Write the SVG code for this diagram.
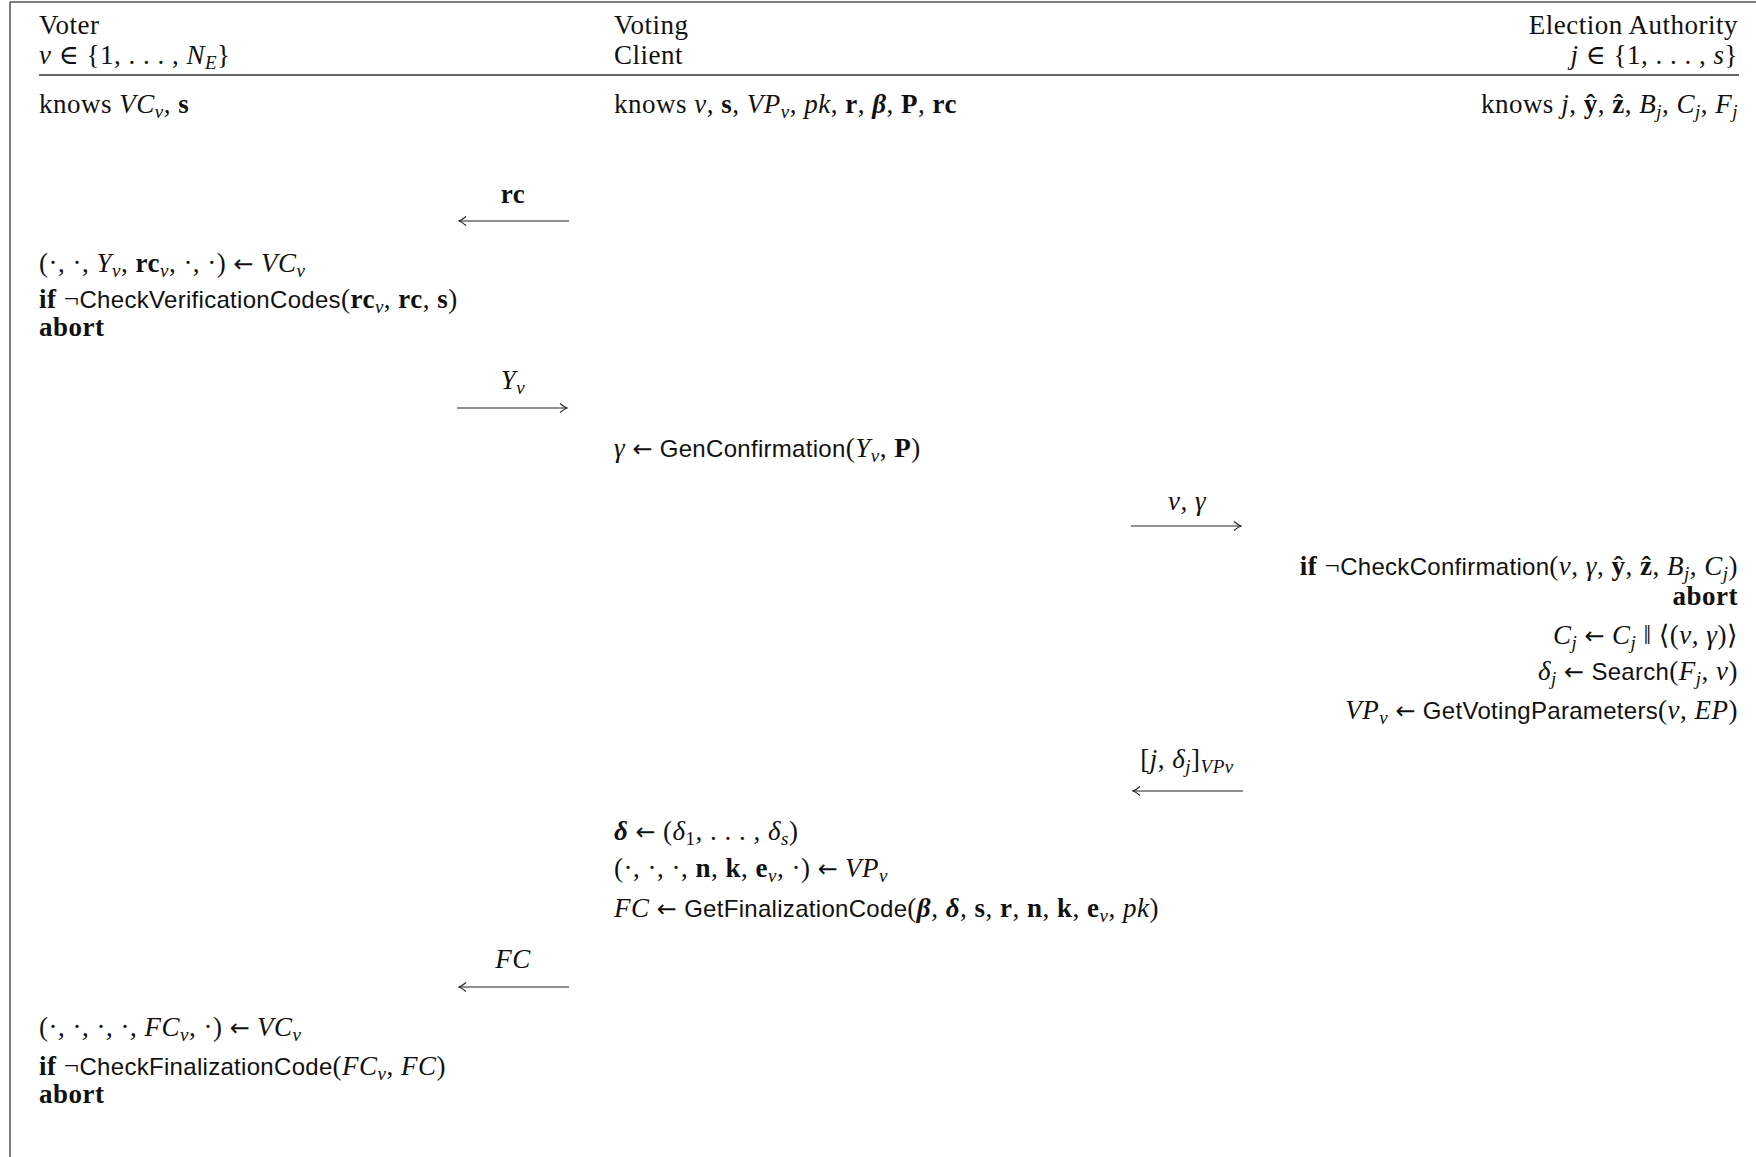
<svg xmlns="http://www.w3.org/2000/svg" width="1756" height="1157" viewBox="0 0 1756 1157">
<defs>
<style>
text{font-family:"Liberation Serif","DejaVu Serif",serif;font-size:27px;letter-spacing:0.5px;fill:#111}
.r{text-anchor:end}
.i{font-style:italic}
.b{font-weight:bold}
.bi{font-weight:bold;font-style:italic}
.sf{font-family:"Liberation Sans","DejaVu Sans",sans-serif;font-size:24px;letter-spacing:0.3px}
.ar{font-family:"DejaVu Sans",sans-serif;font-size:24px;letter-spacing:0}
.s{font-size:19px;baseline-shift:-25%}
.si{font-size:19px;baseline-shift:-25%;font-style:italic}
.frame{stroke:#555;stroke-width:1.5;fill:none}
.rule{stroke:#666;stroke-width:2.2;fill:none}
.msg{stroke:#222;stroke-width:1.2;fill:none}
</style>
<marker id="ah" viewBox="-10 -6 12 12" refX="0" refY="0" markerWidth="12" markerHeight="12" markerUnits="userSpaceOnUse" orient="auto-start-reverse">
<path d="M-7,-4.5 Q-3,-1 0,0 Q-3,1 -7,4.5" fill="none" stroke="#222" stroke-width="1.1"/>
</marker>
</defs>
<rect width="1756" height="1157" fill="#fff"/>
<g id="frame">
<line class="frame" x1="10" y1="2" x2="1756" y2="2"/>
<line class="frame" x1="10" y1="2" x2="10" y2="1157"/>
<line class="rule" x1="39" y1="75" x2="1739" y2="75"/>
</g>
<g id="voter">
<text x="39" y="34">Voter</text>
<text x="39" y="64"><tspan class="i">v</tspan> ∈ {1, . . . , <tspan class="i">N</tspan><tspan class="si">E</tspan>}</text>
<text x="39" y="113">knows  <tspan class="i">VC</tspan><tspan class="si">v</tspan>, <tspan class="b">s</tspan></text>
<text x="39" y="272">(·, ·, <tspan class="i">Y</tspan><tspan class="si">v</tspan>, <tspan class="b">rc</tspan><tspan class="si">v</tspan>, ·, ·) <tspan class="ar">←</tspan> <tspan class="i">VC</tspan><tspan class="si">v</tspan></text>
<text x="39" y="308"><tspan class="b">if</tspan> ¬<tspan class="sf">CheckVerificationCodes</tspan>(<tspan class="b">rc</tspan><tspan class="si">v</tspan>, <tspan class="b">rc</tspan>, <tspan class="b">s</tspan>)</text>
<text x="39" y="336" class="b">abort</text>
<text x="39" y="1036">(·, ·, ·, ·, <tspan class="i">FC</tspan><tspan class="si">v</tspan>, ·) <tspan class="ar">←</tspan> <tspan class="i">VC</tspan><tspan class="si">v</tspan></text>
<text x="39" y="1075"><tspan class="b">if</tspan> ¬<tspan class="sf">CheckFinalizationCode</tspan>(<tspan class="i">FC</tspan><tspan class="si">v</tspan>, <tspan class="i">FC</tspan>)</text>
<text x="39" y="1103" class="b">abort</text>
</g>
<g id="client">
<text x="614" y="34">Voting</text>
<text x="614" y="64">Client</text>
<text x="614" y="113">knows <tspan class="i">v</tspan>, <tspan class="b">s</tspan>, <tspan class="i">VP</tspan><tspan class="si">v</tspan>, <tspan class="i">pk</tspan>, <tspan class="b">r</tspan>, <tspan class="bi">β</tspan>, <tspan class="b">P</tspan>, <tspan class="b">rc</tspan></text>
<text x="614" y="457"><tspan class="i">γ</tspan> <tspan class="ar">←</tspan> <tspan class="sf">GenConfirmation</tspan>(<tspan class="i">Y</tspan><tspan class="si">v</tspan>, <tspan class="b">P</tspan>)</text>
<text x="614" y="840"><tspan class="bi">δ</tspan> <tspan class="ar">←</tspan> (<tspan class="i">δ</tspan><tspan class="s">1</tspan>, . . . , <tspan class="i">δ</tspan><tspan class="si">s</tspan>)</text>
<text x="614" y="877">(·, ·, ·, <tspan class="b">n</tspan>, <tspan class="b">k</tspan>, <tspan class="b">e</tspan><tspan class="si">v</tspan>, ·) <tspan class="ar">←</tspan> <tspan class="i">VP</tspan><tspan class="si">v</tspan></text>
<text x="614" y="917"><tspan class="i">FC</tspan> <tspan class="ar">←</tspan> <tspan class="sf">GetFinalizationCode</tspan>(<tspan class="bi">β</tspan>, <tspan class="bi">δ</tspan>, <tspan class="b">s</tspan>, <tspan class="b">r</tspan>, <tspan class="b">n</tspan>, <tspan class="b">k</tspan>, <tspan class="b">e</tspan><tspan class="si">v</tspan>, <tspan class="i">pk</tspan>)</text>
</g>
<g id="authority">
<text x="1738" y="34" class="r">Election Authority</text>
<text x="1738" y="64" class="r"><tspan class="i">j</tspan> ∈ {1, . . . , <tspan class="i">s</tspan>}</text>
<text x="1738" y="113" class="r">knows <tspan class="i">j</tspan>, <tspan class="b">ŷ</tspan>, <tspan class="b">ẑ</tspan>, <tspan class="i">B</tspan><tspan class="si">j</tspan>, <tspan class="i">C</tspan><tspan class="si">j</tspan>, <tspan class="i">F</tspan><tspan class="si">j</tspan></text>
<text x="1738" y="575" class="r"><tspan class="b">if</tspan> ¬<tspan class="sf">CheckConfirmation</tspan>(<tspan class="i">v</tspan>, <tspan class="i">γ</tspan>, <tspan class="b">ŷ</tspan>, <tspan class="b">ẑ</tspan>, <tspan class="i">B</tspan><tspan class="si">j</tspan>, <tspan class="i">C</tspan><tspan class="si">j</tspan>)</text>
<text x="1738" y="605" class="r b">abort</text>
<text x="1738" y="644" class="r"><tspan class="i">C</tspan><tspan class="si">j</tspan> <tspan class="ar">←</tspan> <tspan class="i">C</tspan><tspan class="si">j</tspan>  ‖ ⟨(<tspan class="i">v</tspan>, <tspan class="i">γ</tspan>)⟩</text>
<text x="1738" y="680" class="r"><tspan class="i">δ</tspan><tspan class="si">j</tspan> <tspan class="ar">←</tspan> <tspan class="sf">Search</tspan>(<tspan class="i">F</tspan><tspan class="si">j</tspan>, <tspan class="i">v</tspan>)</text>
<text x="1738" y="719" class="r"><tspan class="i">VP</tspan><tspan class="si">v</tspan> <tspan class="ar">←</tspan> <tspan class="sf">GetVotingParameters</tspan>(<tspan class="i">v</tspan>, <tspan class="i">EP</tspan>)</text>
</g>
<g id="connectors">
<g id="m1">
<text x="513" y="203" text-anchor="middle" class="b">rc</text>
<line class="msg" x1="459" y1="221" x2="569" y2="221" marker-start="url(#ah)"/>
</g>
<g id="m2">
<text x="513" y="389" text-anchor="middle"><tspan class="i">Y</tspan><tspan class="si">v</tspan></text>
<line class="msg" x1="457" y1="408" x2="567" y2="408" marker-end="url(#ah)"/>
</g>
<g id="m3">
<text x="1187" y="510" text-anchor="middle"><tspan class="i">v</tspan>, <tspan class="i">γ</tspan></text>
<line class="msg" x1="1131" y1="526" x2="1241" y2="526" marker-end="url(#ah)"/>
</g>
<g id="m4">
<text x="1187" y="768" text-anchor="middle">[<tspan class="i">j</tspan>, <tspan class="i">δ</tspan><tspan class="si">j</tspan>]<tspan class="si" baseline-shift="-35%">VP</tspan><tspan class="si" font-size="13" baseline-shift="-55%">v</tspan></text>
<line class="msg" x1="1133" y1="791" x2="1243" y2="791" marker-start="url(#ah)"/>
</g>
<g id="m5">
<text x="513" y="968" text-anchor="middle"><tspan class="i">FC</tspan></text>
<line class="msg" x1="459" y1="987" x2="569" y2="987" marker-start="url(#ah)"/>
</g>
</g>
</svg>
